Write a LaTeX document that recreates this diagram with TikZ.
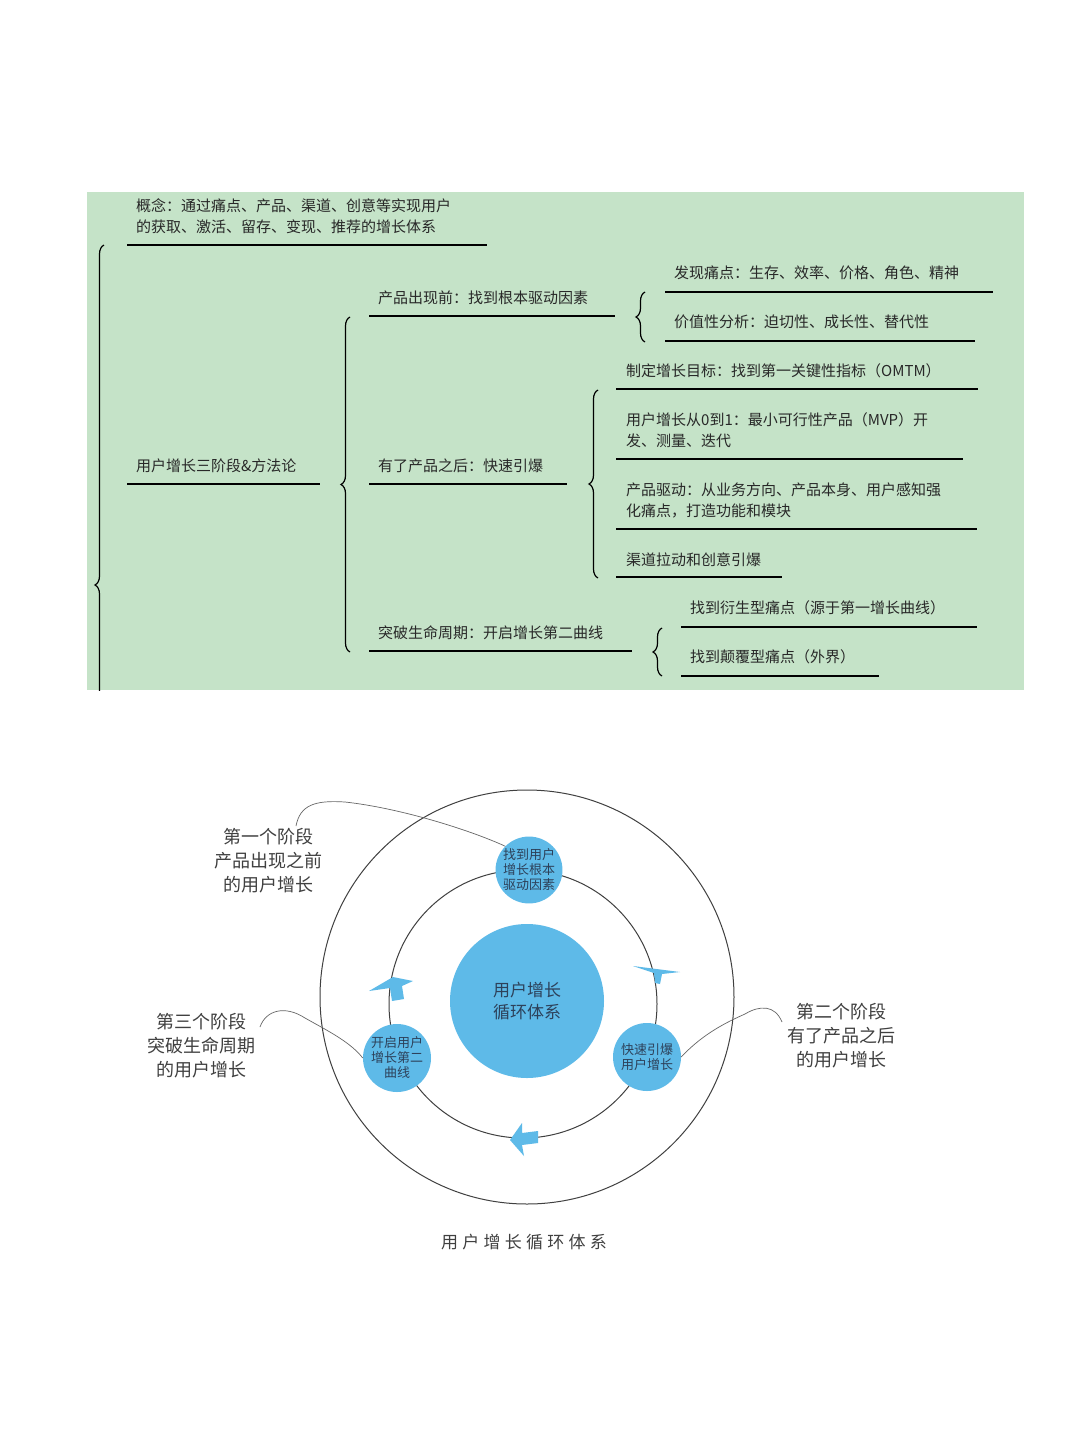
\documentclass[tikz,border=0pt]{standalone}
\usepackage{fontspec}
\setmainfont{Noto Sans CJK SC}
\usetikzlibrary{decorations.pathreplacing}
\definecolor{pan}{RGB}{197,227,200}
\definecolor{bl}{RGB}{94,186,232}
\definecolor{tx}{RGB}{40,40,40}
\definecolor{ct}{RGB}{45,65,90}
\tikzset{x=1pt,y=-1pt,
 t/.style={anchor=base west,inner sep=0pt,font=\fontsize{15}{21}\selectfont,text=tx,align=left},
 ul/.style={line width=1.3pt,black},
 br/.style={decorate,decoration={brace,amplitude=9pt,raise=0pt},line width=1.2pt},
 lab/.style={align=center,font=\fontsize{18}{24}\selectfont\addfontfeature{FakeBold=0},text=black!75},
 ctxt/.style={align=center,text=ct,inner sep=0pt,font=\fontsize{13}{15}\selectfont},
 lead/.style={draw=black!60,line width=0.7pt},
 ring/.style={draw=black!75,line width=1pt},
 blk/.style={fill=bl,draw=none}}
\begin{document}
\begin{tikzpicture}
\useasboundingbox (0,0) rectangle (1080,1440);
\fill[white] (0,0) rectangle (1080,1440);
\fill[pan] (87,192) rectangle (1024,690);
\begin{scope}
\clip (87,192) rectangle (1024,690);
\draw[br] (104,925) -- (104,245);
\end{scope}
\node[t] (c1) at (136,211) {概念：通过痛点、产品、渠道、创意等实现用户};
\node[t] (c2) at (136,232) {的获取、激活、留存、变现、推荐的增长体系};
\draw[ul] (127,245) -- (487,245);
\node[t] (m) at (136,471) {用户增长三阶段\&方法论};
\draw[ul] (127,484) -- (320,484);
\draw[br] (350,652) -- (350,317);
\node[t] (a) at (378,303) {产品出现前：找到根本驱动因素};
\draw[ul] (369,316) -- (615,316);
\node[t] (b) at (378,471) {有了产品之后：快速引爆};
\draw[ul] (369,484) -- (567,484);
\node[t] (c) at (378,638) {突破生命周期：开启增长第二曲线};
\draw[ul] (369,651) -- (632,651);
\draw[br] (645,342) -- (645,292);
\node[t] (a1) at (674,278) {发现痛点：生存、效率、价格、角色、精神};
\draw[ul] (665,292) -- (993,292);
\node[t] (a2) at (674,327) {价值性分析：迫切性、成长性、替代性};
\draw[ul] (665,341) -- (975,341);
\draw[br] (598,578) -- (598,390);
\node[t] (b1) at (626,376) {制定增长目标：找到第一关键性指标（OMTM）};
\draw[ul] (616,389) -- (978,389);
\node[t] (b2) at (626,425) {用户增长从0到1：最小可行性产品（MVP）开};
\node[t] (b2b) at (626,446) {发、测量、迭代};
\draw[ul] (616,459) -- (963,459);
\node[t] (b3) at (626,495) {产品驱动：从业务方向、产品本身、用户感知强};
\node[t] (b3b) at (626,516) {化痛点，打造功能和模块};
\draw[ul] (616,529) -- (977,529);
\node[t] (b4) at (626,565) {渠道拉动和创意引爆};
\draw[ul] (616,577) -- (782,577);
\draw[br] (662,676) -- (662,628);
\node[t] (c1x) at (690,613) {找到衍生型痛点（源于第一增长曲线）};
\draw[ul] (681,627) -- (977,627);
\node[t] (c2x) at (690,662) {找到颠覆型痛点（外界）};
\draw[ul] (681,676) -- (879,676);
% cycle
\draw[ring] (527,997) circle (207);
\draw[ring] (523,1004) circle (134);
\node[circle,fill=bl,minimum size=154pt,ctxt,font=\fontsize{17}{22}\selectfont] (core) at (527,1001) {用户增长\\循环体系};
\node[circle,fill=bl,minimum size=66pt,ctxt] (s1) at (529,870) {找到用户\\增长根本\\驱动因素};
\node[circle,fill=bl,minimum size=68pt,ctxt] (s2) at (647,1057) {快速引爆\\用户增长};
\node[circle,fill=bl,minimum size=68pt,ctxt] (s3) at (397,1058) {开启用户\\增长第二\\曲线};
% block arrows
\fill[blk] (633,966) -- (680,972) -- (662,974) -- (660,984) -- (655,983) -- (654,973) -- cycle;
\fill[blk] (522,1123) -- (510,1140) -- (524,1156) -- (522,1145) -- (538,1143) -- (538,1131) -- (522,1133) -- cycle;
\fill[blk] (369,991) -- (393,977) -- (413,981) -- (402,986) -- (404,999) -- (392,1001) -- (390,988) -- cycle;
% labels
\node[lab] (l1) at (268,861) {第一个阶段\\产品出现之前\\的用户增长};
\node[lab] (l2) at (841,1036) {第二个阶段\\有了产品之后\\的用户增长};
\node[lab] (l3) at (201,1046) {第三个阶段\\突破生命周期\\的用户增长};
\draw[lead] (296,826) .. controls (300,805) and (315,800) .. (345,802) .. controls (400,808) and (470,830) .. (s1.north west);
\draw[lead] (782,1022) .. controls (775,1005) and (760,1005) .. (745,1014) .. controls (720,1025) and (700,1037) .. (s2.east);
\draw[lead] (260,1027) .. controls (266,1010) and (285,1005) .. (305,1018) .. controls (330,1032) and (350,1042) .. (s3.west);
\node[font=\fontsize{17}{20}\selectfont\addfontfeature{LetterSpace=25},text=black!75] (cap) at (524,1242) {用户增长循环体系};
\end{tikzpicture}
\end{document}
